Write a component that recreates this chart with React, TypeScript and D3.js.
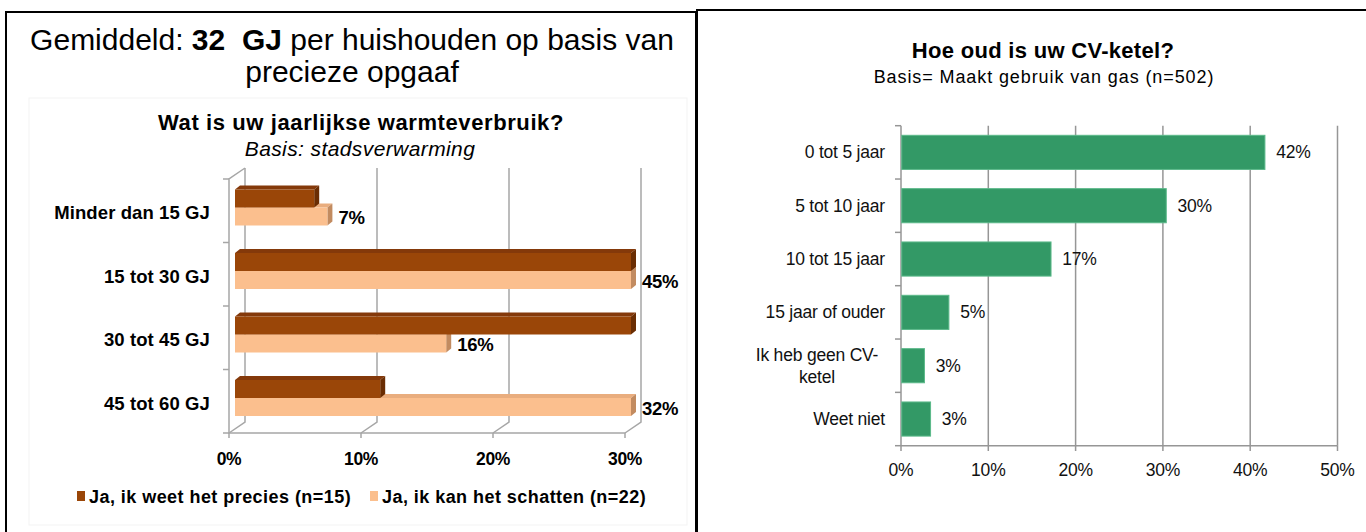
import * as d3 from "d3"
import { useEffect, useRef } from "react"

// left chart: jaarlijks warmteverbruik (stadsverwarming)
const heatCats = ["Minder dan 15 GJ", "15 tot 30 GJ", "30 tot 45 GJ", "45 tot 60 GJ"]
const heatSeries = ["Ja, ik weet het precies (n=15)", "Ja, ik kan het schatten (n=22)"]
const heatExact = [6, 40, 43, 11]
const heatEstimate = [7, 45, 16, 32]
const heatTicks = [0, 10, 20, 30]

// right chart: leeftijd CV-ketel
const boilerCats = ["0 tot 5 jaar", "5 tot 10 jaar", "10 tot 15 jaar", "15 jaar of ouder", "Ik heb geen CV-ketel", "Weet niet"]
const boilerLines = [["0 tot 5 jaar"], ["5 tot 10 jaar"], ["10 tot 15 jaar"], ["15 jaar of ouder"], ["Ik heb geen CV-", "ketel"], ["Weet niet"]]
const boilerValues = [41.6, 30.3, 17.1, 5.4, 2.6, 3.3]
const boilerTicks = [0, 10, 20, 30, 40, 50]

const FONT = "'Liberation Sans', Arial, sans-serif"

export default function App() {
    const svgRef = useRef<SVGSVGElement>(null)

    useEffect(() => {
        if (!svgRef.current) return
        const svg = d3.select(svgRef.current)
        svg.selectAll("*").remove()
        svg.attr("font-family", FONT)

        // ---------- panel frames ----------
        svg.append("rect").attr("x", 6).attr("y", 12).attr("width", 690).attr("height", 530)
            .attr("fill", "#fff").attr("stroke", "#000").attr("stroke-width", 2)
        svg.append("rect").attr("x", 29).attr("y", 98).attr("width", 658).attr("height", 427)
            .attr("fill", "none").attr("stroke", "#f3f3f3").attr("stroke-width", 1)
        svg.append("rect").attr("x", 697).attr("y", 10).attr("width", 680).attr("height", 530)
            .attr("fill", "#fff").attr("stroke", "#000").attr("stroke-width", 2)

        // ---------- left panel ----------
        const head = svg.append("text").attr("x", 352).attr("y", 50).attr("text-anchor", "middle")
            .attr("font-size", 30).attr("fill", "#000")
        head.append("tspan").text("Gemiddeld: ")
        head.append("tspan").attr("font-weight", "bold").text("32\u00a0 GJ")
        head.append("tspan").text(" per huishouden op basis van")
        svg.append("text").attr("x", 352).attr("y", 82).attr("text-anchor", "middle")
            .attr("font-size", 30).text("precieze opgaaf")

        svg.append("text").attr("x", 361).attr("y", 130).attr("text-anchor", "middle")
            .attr("font-size", 22).attr("font-weight", "bold").attr("letter-spacing", 0.6)
            .text("Wat is uw jaarlijkse warmteverbruik?")
        svg.append("text").attr("x", 360).attr("y", 156).attr("text-anchor", "middle")
            .attr("font-size", 21).attr("font-style", "italic").attr("letter-spacing", 0.4)
            .text("Basis: stadsverwarming")

        const xF = d3.scaleLinear().domain([0, 30]).range([229, 625])
        const yF = d3.scaleBand<string>().domain(heatCats).range([179, 433])
        const depth = { dx: 16, dy: -11 }
        const bar = { off: 6, dx: 5, dy: -4 }
        const grid = "#a6a6a6"

        const g = svg.append("g")
        // back-wall gridlines with floor diagonals
        heatTicks.forEach((t) => {
            const x = xF(t)
            g.append("path")
                .attr("d", `M${x + depth.dx},${179 + depth.dy}V${433 + depth.dy}L${x},433`)
                .attr("fill", "none").attr("stroke", grid).attr("stroke-width", 1.5)
            g.append("line").attr("x1", x).attr("x2", x).attr("y1", 433).attr("y2", 438)
                .attr("stroke", grid).attr("stroke-width", 1.5)
        })
        // left wall front edge + floor front edge
        g.append("path")
            .attr("d", `M${xF(0) + depth.dx},${179 + depth.dy}L${xF(0)},179V433H${xF(30)}`)
            .attr("fill", "none").attr("stroke", grid).attr("stroke-width", 1.5)
        d3.range(heatCats.length + 1).forEach((i) => {
            const y = 179 + i * yF.step()
            g.append("line").attr("x1", xF(0) - 6).attr("x2", xF(0)).attr("y1", y).attr("y2", y)
                .attr("stroke", grid).attr("stroke-width", 1.5)
        })

        const inner = d3.scaleBand<string>().domain(heatSeries).range([0, 36])
        const fills = [
            { front: "#9a4608", top: "#84390a", side: "#6a2d03" },
            { front: "#fbbf8e", top: "#e9ad7e", side: "#c28b60" },
        ]
        const xB = (v: number) => xF(Math.min(v, 30)) + bar.off

        const draw3d = (x0: number, x1: number, y: number, h: number, c: { front: string; top: string; side: string }) => {
            g.append("path")
                .attr("d", `M${x0},${y}L${x0 + bar.dx},${y + bar.dy}H${x1 + bar.dx}L${x1},${y}Z`)
                .attr("fill", c.top)
            g.append("path")
                .attr("d", `M${x1},${y}L${x1 + bar.dx},${y + bar.dy}V${y + h + bar.dy}L${x1},${y + h}Z`)
                .attr("fill", c.side)
            g.append("rect").attr("x", x0).attr("y", y).attr("width", x1 - x0).attr("height", h)
                .attr("fill", c.front)
        }

        heatCats.forEach((cat, i) => {
            const top = (yF(cat) ?? 0) + 10.5
            const h = inner.bandwidth()
            // estimate first (lower), then exact on top of it
            const yEst = top + (inner(heatSeries[1]) ?? 0)
            draw3d(xB(0), xB(heatEstimate[i]), yEst, h, fills[1])
            const yEx = top + (inner(heatSeries[0]) ?? 0)
            draw3d(xB(0), xB(heatExact[i]), yEx, h, fills[0])

            g.append("text").attr("x", xB(heatEstimate[i]) + bar.dx + 6).attr("y", yEst + h / 2 + 1)
                .attr("dominant-baseline", "central").attr("font-size", 18.5).attr("font-weight", "bold")
                .attr("letter-spacing", -0.3).text(`${heatEstimate[i]}%`)

            g.append("text").attr("x", 210).attr("y", (yF(cat) ?? 0) + yF.bandwidth() / 2 + 2)
                .attr("dominant-baseline", "central").attr("text-anchor", "end")
                .attr("font-size", 18.5).attr("font-weight", "bold").attr("letter-spacing", 0.1).text(cat)
        })

        heatTicks.forEach((t) => {
            g.append("text").attr("x", xF(t)).attr("y", 465).attr("text-anchor", "middle")
                .attr("font-size", 17.5).attr("font-weight", "bold").attr("letter-spacing", -0.4).text(`${t}%`)
        })

        // legend
        const lg = svg.append("g")
        const legendX = [77, 370]
        heatSeries.forEach((s, i) => {
            lg.append("rect").attr("x", legendX[i]).attr("y", 491).attr("width", 8).attr("height", 10)
                .attr("fill", fills[i].front)
            lg.append("text").attr("x", legendX[i] + 12).attr("y", 503).attr("font-size", 18)
                .attr("font-weight", "bold").attr("letter-spacing", 0.45).text(s)
        })

        // ---------- right panel ----------
        svg.append("text").attr("x", 1043).attr("y", 58).attr("text-anchor", "middle")
            .attr("font-size", 22).attr("font-weight", "bold").attr("letter-spacing", 0.3).text("Hoe oud is uw CV-ketel?")
        svg.append("text").attr("x", 1044).attr("y", 83).attr("text-anchor", "middle")
            .attr("font-size", 18).attr("letter-spacing", 0.9).text("Basis= Maakt gebruik van gas (n=502)")

        const xR = d3.scaleLinear().domain([0, 50]).range([901, 1337.5])
        const yR = d3.scaleBand<string>().domain(boilerCats).range([125.7, 445.7])
            .paddingInner(0.36).paddingOuter(0.18)
        const axisGray = "#969696"
        const r = svg.append("g")

        boilerTicks.slice(1).forEach((t) => {
            r.append("line").attr("x1", xR(t)).attr("x2", xR(t)).attr("y1", 125.7).attr("y2", 445.7)
                .attr("stroke", axisGray).attr("stroke-width", 1.5)
        })
        r.append("line").attr("x1", 901).attr("x2", 901).attr("y1", 125.7).attr("y2", 445.7)
            .attr("stroke", axisGray).attr("stroke-width", 1.5)
        r.append("line").attr("x1", 901).attr("x2", xR(50)).attr("y1", 445.7).attr("y2", 445.7)
            .attr("stroke", axisGray).attr("stroke-width", 1.5)
        boilerTicks.forEach((t) => {
            r.append("line").attr("x1", xR(t)).attr("x2", xR(t)).attr("y1", 445.7).attr("y2", 451)
                .attr("stroke", axisGray).attr("stroke-width", 1.5)
            r.append("text").attr("x", xR(t)).attr("y", 476).attr("text-anchor", "middle")
                .attr("font-size", 17.5).attr("letter-spacing", -0.2).attr("fill", "#111").text(`${t}%`)
        })
        d3.range(boilerCats.length + 1).forEach((i) => {
            const y = 125.7 + i * yR.step()
            r.append("line").attr("x1", 895).attr("x2", 901).attr("y1", y).attr("y2", y)
                .attr("stroke", axisGray).attr("stroke-width", 1.5)
        })

        boilerCats.forEach((cat, i) => {
            const y = yR(cat) ?? 0
            r.append("rect").attr("x", xR(0) + 0.75).attr("y", y).attr("width", xR(boilerValues[i]) - xR(0))
                .attr("height", yR.bandwidth()).attr("fill", "#339966").attr("stroke", "#5cb98a").attr("stroke-width", 1)
            r.append("text").attr("x", xR(boilerValues[i]) + 12).attr("y", y + yR.bandwidth() / 2)
                .attr("dominant-baseline", "central").attr("font-size", 17.5).attr("letter-spacing", -0.2)
                .attr("fill", "#111").text(`${Math.round(boilerValues[i])}%`)

            const lines = boilerLines[i]
            const lh = 22
            const cy = y + yR.bandwidth() / 2
            const lx = lines.length > 1 ? 817 : 885
            const t = r.append("text").attr("text-anchor", lines.length > 1 ? "middle" : "end")
                .attr("font-size", 17.5).attr("letter-spacing", -0.2).attr("fill", "#111")
            lines.forEach((ln, j) => {
                t.append("tspan").attr("x", lx).attr("y", cy + (j - (lines.length - 1) / 2) * lh)
                    .attr("dominant-baseline", "central").text(ln)
            })
        })
    }, [])

    return (
        <svg ref={svgRef} width={1366} height={532} viewBox="0 0 1366 532"
            style={{ position: "absolute", left: 0, top: 0, background: "#fff" }} />
    )
}
